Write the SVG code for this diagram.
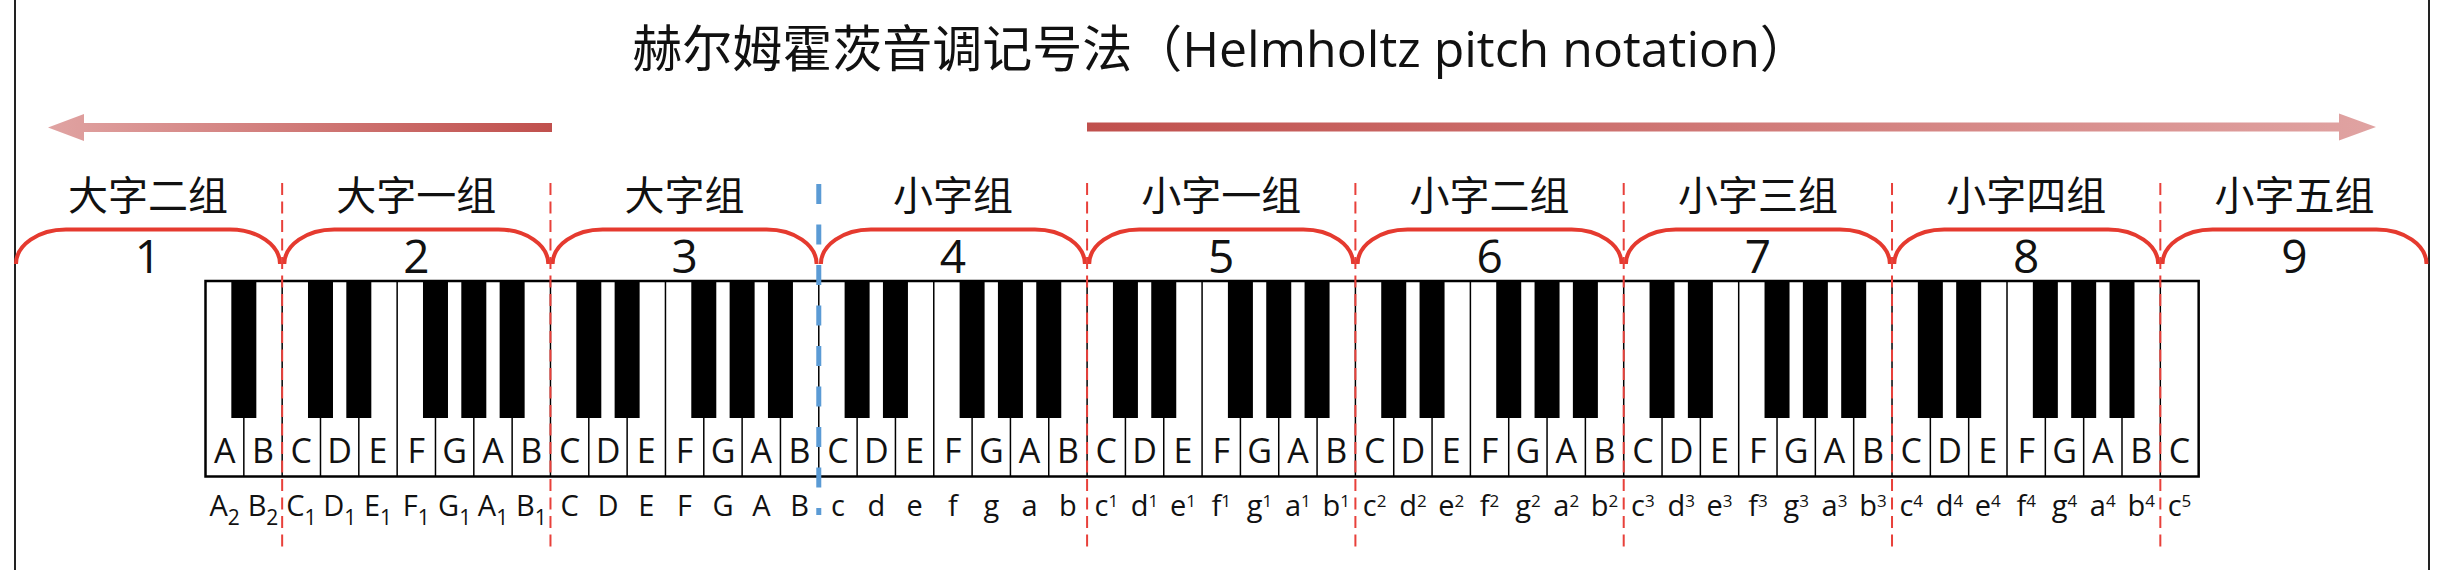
<svg xmlns="http://www.w3.org/2000/svg" xmlns:xlink="http://www.w3.org/1999/xlink" width="2444" height="570" viewBox="0 0 2444 570">
<style>
text{font-family:"Open Sans","Noto Sans CJK SC",sans-serif;fill:#111;text-anchor:middle}
.title{font-size:50px}
.grp{font-size:40px}
.num{font-size:46px}
.kl{font-size:34px}
.nl{font-size:29px}
.sub{font-size:21px}
.sup{font-size:17px}
.brace{fill:none;stroke:#e53a2f;stroke-width:4}
.bk{fill:#000}
.sep{fill:none;stroke:#000;stroke-width:1.5}
.red{stroke:#e8403a;stroke-width:2;stroke-dasharray:12 6.5;fill:none}
.blue{stroke:#5b9bd5;stroke-width:5;stroke-dasharray:20 20.5;fill:none}
.frame{stroke:#222;stroke-width:2}
</style>
<defs>
<linearGradient id="gl" gradientUnits="userSpaceOnUse" x1="48" y1="0" x2="552" y2="0">
<stop offset="0" stop-color="#e0a3a2"/><stop offset="1" stop-color="#c0504d"/>
</linearGradient>
<linearGradient id="gr" gradientUnits="userSpaceOnUse" x1="1087" y1="0" x2="2376" y2="0">
<stop offset="0" stop-color="#c0504d"/><stop offset="1" stop-color="#e0a3a2"/>
</linearGradient>
<path id="brace" class="brace" d="M -132 264 A 50 34.5 0 0 1 -82 229.5 H 82 A 50 34.5 0 0 1 132 264"/>
</defs>
<rect width="2444" height="570" fill="#fff"/>
<g id="frame">
<line class="frame" x1="15" y1="0" x2="15" y2="570"/>
<line class="frame" x1="2429" y1="0" x2="2429" y2="570"/>
</g>
<g id="title"><text class="title" x="1221" y="67">赫尔姆霍茨音调记号法（Helmholtz pitch notation）</text></g>
<g id="arrow-left"><polygon fill="url(#gl)" points="48,127.5 84,114 84,123 552,123 552,132 84,132 84,141"/></g>
<g id="arrow-right"><polygon fill="url(#gr)" points="1087,122.5 2339,122.5 2339,113.5 2376,127 2339,140.5 2339,131.5 1087,131.5"/></g>
<g id="group-1"><text class="grp" x="148" y="210">大字二组</text><use xlink:href="#brace" x="148"/><text class="num" x="148" y="273">1</text></g>
<g id="group-2"><text class="grp" x="416.3" y="210">大字一组</text><use xlink:href="#brace" x="416.3"/><text class="num" x="416.3" y="273">2</text></g>
<g id="group-3"><text class="grp" x="684.6" y="210">大字组</text><use xlink:href="#brace" x="684.6"/><text class="num" x="684.6" y="273">3</text></g>
<g id="group-4"><text class="grp" x="952.9" y="210">小字组</text><use xlink:href="#brace" x="952.9"/><text class="num" x="952.9" y="273">4</text></g>
<g id="group-5"><text class="grp" x="1221.2" y="210">小字一组</text><use xlink:href="#brace" x="1221.2"/><text class="num" x="1221.2" y="273">5</text></g>
<g id="group-6"><text class="grp" x="1489.6" y="210">小字二组</text><use xlink:href="#brace" x="1489.6"/><text class="num" x="1489.6" y="273">6</text></g>
<g id="group-7"><text class="grp" x="1757.9" y="210">小字三组</text><use xlink:href="#brace" x="1757.9"/><text class="num" x="1757.9" y="273">7</text></g>
<g id="group-8"><text class="grp" x="2026.2" y="210">小字四组</text><use xlink:href="#brace" x="2026.2"/><text class="num" x="2026.2" y="273">8</text></g>
<g id="group-9"><text class="grp" x="2294.5" y="210">小字五组</text><use xlink:href="#brace" x="2294.5"/><text class="num" x="2294.5" y="273">9</text></g>
<g id="keyboard">
<rect x="205.5" y="281" width="1993.16" height="195.5" fill="#fff" stroke="#000" stroke-width="2.5"/>
<path class="sep" d="M243.83 281V476.5M282.16 281V476.5M320.49 281V476.5M358.82 281V476.5M397.15 281V476.5M435.48 281V476.5M473.81 281V476.5M512.14 281V476.5M550.47 281V476.5M588.8 281V476.5M627.13 281V476.5M665.46 281V476.5M703.79 281V476.5M742.12 281V476.5M780.45 281V476.5M818.78 281V476.5M857.11 281V476.5M895.44 281V476.5M933.77 281V476.5M972.1 281V476.5M1010.43 281V476.5M1048.76 281V476.5M1087.09 281V476.5M1125.42 281V476.5M1163.75 281V476.5M1202.08 281V476.5M1240.41 281V476.5M1278.74 281V476.5M1317.07 281V476.5M1355.4 281V476.5M1393.73 281V476.5M1432.06 281V476.5M1470.39 281V476.5M1508.72 281V476.5M1547.05 281V476.5M1585.38 281V476.5M1623.71 281V476.5M1662.04 281V476.5M1700.37 281V476.5M1738.7 281V476.5M1777.03 281V476.5M1815.36 281V476.5M1853.69 281V476.5M1892.02 281V476.5M1930.35 281V476.5M1968.68 281V476.5M2007.01 281V476.5M2045.34 281V476.5M2083.67 281V476.5M2122 281V476.5M2160.33 281V476.5"/>
<g class="bk">
<rect x="231.33" y="281" width="25" height="137"/>
<rect x="307.99" y="281" width="25" height="137"/><rect x="346.32" y="281" width="25" height="137"/><rect x="422.98" y="281" width="25" height="137"/><rect x="461.31" y="281" width="25" height="137"/><rect x="499.64" y="281" width="25" height="137"/>
<rect x="576.3" y="281" width="25" height="137"/><rect x="614.63" y="281" width="25" height="137"/><rect x="691.29" y="281" width="25" height="137"/><rect x="729.62" y="281" width="25" height="137"/><rect x="767.95" y="281" width="25" height="137"/>
<rect x="844.61" y="281" width="25" height="137"/><rect x="882.94" y="281" width="25" height="137"/><rect x="959.6" y="281" width="25" height="137"/><rect x="997.93" y="281" width="25" height="137"/><rect x="1036.26" y="281" width="25" height="137"/>
<rect x="1112.92" y="281" width="25" height="137"/><rect x="1151.25" y="281" width="25" height="137"/><rect x="1227.91" y="281" width="25" height="137"/><rect x="1266.24" y="281" width="25" height="137"/><rect x="1304.57" y="281" width="25" height="137"/>
<rect x="1381.23" y="281" width="25" height="137"/><rect x="1419.56" y="281" width="25" height="137"/><rect x="1496.22" y="281" width="25" height="137"/><rect x="1534.55" y="281" width="25" height="137"/><rect x="1572.88" y="281" width="25" height="137"/>
<rect x="1649.54" y="281" width="25" height="137"/><rect x="1687.87" y="281" width="25" height="137"/><rect x="1764.53" y="281" width="25" height="137"/><rect x="1802.86" y="281" width="25" height="137"/><rect x="1841.19" y="281" width="25" height="137"/>
<rect x="1917.85" y="281" width="25" height="137"/><rect x="1956.18" y="281" width="25" height="137"/><rect x="2032.84" y="281" width="25" height="137"/><rect x="2071.17" y="281" width="25" height="137"/><rect x="2109.5" y="281" width="25" height="137"/>
</g>
<g id="key-letters">
<text class="kl" x="224.7" y="463">A</text><text class="kl" x="263" y="463">B</text>
<text class="kl" x="301.3" y="463">C</text><text class="kl" x="339.7" y="463">D</text><text class="kl" x="378" y="463">E</text><text class="kl" x="416.3" y="463">F</text><text class="kl" x="454.6" y="463">G</text><text class="kl" x="493" y="463">A</text><text class="kl" x="531.3" y="463">B</text>
<text class="kl" x="569.6" y="463">C</text><text class="kl" x="608" y="463">D</text><text class="kl" x="646.3" y="463">E</text><text class="kl" x="684.6" y="463">F</text><text class="kl" x="723" y="463">G</text><text class="kl" x="761.3" y="463">A</text><text class="kl" x="799.6" y="463">B</text>
<text class="kl" x="837.9" y="463">C</text><text class="kl" x="876.3" y="463">D</text><text class="kl" x="914.6" y="463">E</text><text class="kl" x="952.9" y="463">F</text><text class="kl" x="991.3" y="463">G</text><text class="kl" x="1029.6" y="463">A</text><text class="kl" x="1067.9" y="463">B</text>
<text class="kl" x="1106.3" y="463">C</text><text class="kl" x="1144.6" y="463">D</text><text class="kl" x="1182.9" y="463">E</text><text class="kl" x="1221.2" y="463">F</text><text class="kl" x="1259.6" y="463">G</text><text class="kl" x="1297.9" y="463">A</text><text class="kl" x="1336.2" y="463">B</text>
<text class="kl" x="1374.6" y="463">C</text><text class="kl" x="1412.9" y="463">D</text><text class="kl" x="1451.2" y="463">E</text><text class="kl" x="1489.6" y="463">F</text><text class="kl" x="1527.9" y="463">G</text><text class="kl" x="1566.2" y="463">A</text><text class="kl" x="1604.5" y="463">B</text>
<text class="kl" x="1642.9" y="463">C</text><text class="kl" x="1681.2" y="463">D</text><text class="kl" x="1719.5" y="463">E</text><text class="kl" x="1757.9" y="463">F</text><text class="kl" x="1796.2" y="463">G</text><text class="kl" x="1834.5" y="463">A</text><text class="kl" x="1872.9" y="463">B</text>
<text class="kl" x="1911.2" y="463">C</text><text class="kl" x="1949.5" y="463">D</text><text class="kl" x="1987.8" y="463">E</text><text class="kl" x="2026.2" y="463">F</text><text class="kl" x="2064.5" y="463">G</text><text class="kl" x="2102.8" y="463">A</text><text class="kl" x="2141.2" y="463">B</text>
<text class="kl" x="2179.5" y="463">C</text>
</g>
</g>
<g id="notation">
<text class="nl" x="224.7" y="516">A<tspan class="sub" dy="9">2</tspan></text><text class="nl" x="263" y="516">B<tspan class="sub" dy="9">2</tspan></text>
<text class="nl" x="301.3" y="516">C<tspan class="sub" dy="9">1</tspan></text><text class="nl" x="339.7" y="516">D<tspan class="sub" dy="9">1</tspan></text><text class="nl" x="378" y="516">E<tspan class="sub" dy="9">1</tspan></text><text class="nl" x="416.3" y="516">F<tspan class="sub" dy="9">1</tspan></text><text class="nl" x="454.6" y="516">G<tspan class="sub" dy="9">1</tspan></text><text class="nl" x="493" y="516">A<tspan class="sub" dy="9">1</tspan></text><text class="nl" x="531.3" y="516">B<tspan class="sub" dy="9">1</tspan></text>
<text class="nl" x="569.6" y="516">C</text><text class="nl" x="608" y="516">D</text><text class="nl" x="646.3" y="516">E</text><text class="nl" x="684.6" y="516">F</text><text class="nl" x="723" y="516">G</text><text class="nl" x="761.3" y="516">A</text><text class="nl" x="799.6" y="516">B</text>
<text class="nl" x="837.9" y="516">c</text><text class="nl" x="876.3" y="516">d</text><text class="nl" x="914.6" y="516">e</text><text class="nl" x="952.9" y="516">f</text><text class="nl" x="991.3" y="516">g</text><text class="nl" x="1029.6" y="516">a</text><text class="nl" x="1067.9" y="516">b</text>
<text class="nl" x="1106.3" y="516">c<tspan class="sup" dy="-9">1</tspan></text><text class="nl" x="1144.6" y="516">d<tspan class="sup" dy="-9">1</tspan></text><text class="nl" x="1182.9" y="516">e<tspan class="sup" dy="-9">1</tspan></text><text class="nl" x="1221.2" y="516">f<tspan class="sup" dy="-9">1</tspan></text><text class="nl" x="1259.6" y="516">g<tspan class="sup" dy="-9">1</tspan></text><text class="nl" x="1297.9" y="516">a<tspan class="sup" dy="-9">1</tspan></text><text class="nl" x="1336.2" y="516">b<tspan class="sup" dy="-9">1</tspan></text>
<text class="nl" x="1374.6" y="516">c<tspan class="sup" dy="-9">2</tspan></text><text class="nl" x="1412.9" y="516">d<tspan class="sup" dy="-9">2</tspan></text><text class="nl" x="1451.2" y="516">e<tspan class="sup" dy="-9">2</tspan></text><text class="nl" x="1489.6" y="516">f<tspan class="sup" dy="-9">2</tspan></text><text class="nl" x="1527.9" y="516">g<tspan class="sup" dy="-9">2</tspan></text><text class="nl" x="1566.2" y="516">a<tspan class="sup" dy="-9">2</tspan></text><text class="nl" x="1604.5" y="516">b<tspan class="sup" dy="-9">2</tspan></text>
<text class="nl" x="1642.9" y="516">c<tspan class="sup" dy="-9">3</tspan></text><text class="nl" x="1681.2" y="516">d<tspan class="sup" dy="-9">3</tspan></text><text class="nl" x="1719.5" y="516">e<tspan class="sup" dy="-9">3</tspan></text><text class="nl" x="1757.9" y="516">f<tspan class="sup" dy="-9">3</tspan></text><text class="nl" x="1796.2" y="516">g<tspan class="sup" dy="-9">3</tspan></text><text class="nl" x="1834.5" y="516">a<tspan class="sup" dy="-9">3</tspan></text><text class="nl" x="1872.9" y="516">b<tspan class="sup" dy="-9">3</tspan></text>
<text class="nl" x="1911.2" y="516">c<tspan class="sup" dy="-9">4</tspan></text><text class="nl" x="1949.5" y="516">d<tspan class="sup" dy="-9">4</tspan></text><text class="nl" x="1987.8" y="516">e<tspan class="sup" dy="-9">4</tspan></text><text class="nl" x="2026.2" y="516">f<tspan class="sup" dy="-9">4</tspan></text><text class="nl" x="2064.5" y="516">g<tspan class="sup" dy="-9">4</tspan></text><text class="nl" x="2102.8" y="516">a<tspan class="sup" dy="-9">4</tspan></text><text class="nl" x="2141.2" y="516">b<tspan class="sup" dy="-9">4</tspan></text>
<text class="nl" x="2179.5" y="516">c<tspan class="sup" dy="-9">5</tspan></text>
</g>
<g id="dividers">
<path class="red" d="M282.16 183V553M550.47 183V553M1087.09 183V553M1355.4 183V553M1623.71 183V553M1892.02 183V553M2160.33 183V553"/>
<path class="blue" d="M818.78 184V515"/>
</g>
</svg>
